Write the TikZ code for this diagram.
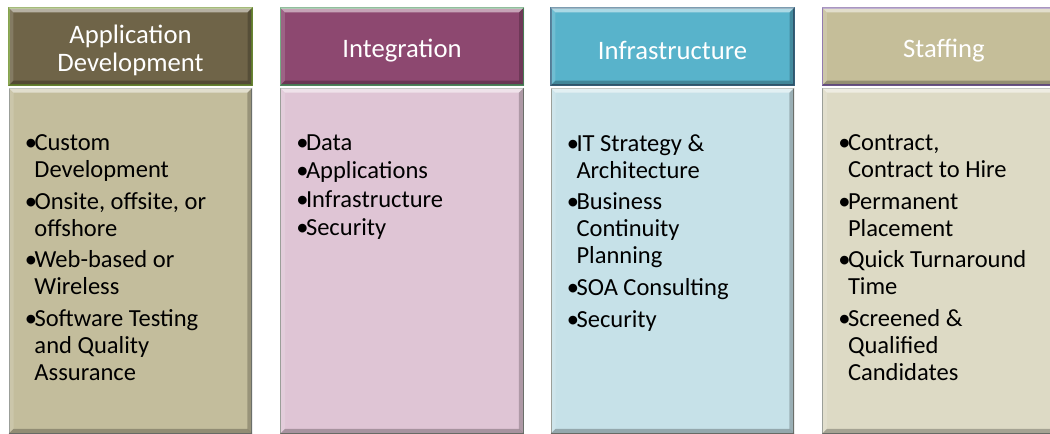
\documentclass[tikz,border=0pt]{standalone}
\usepackage{fontspec}
\setmainfont{Carlito}
\usepackage{tikz}
\usetikzlibrary{positioning}

\definecolor{appHead}{HTML}{6F6448}
\definecolor{appBody}{HTML}{C3BD9C}
\definecolor{appLine}{HTML}{7A9A3C}
\definecolor{intHead}{HTML}{8D4870}
\definecolor{intBody}{HTML}{DFC5D5}
\definecolor{intLine}{HTML}{5E9E6E}
\definecolor{infHead}{HTML}{58B3CB}
\definecolor{infBody}{HTML}{C6E1E8}
\definecolor{infLine}{HTML}{3F6F8C}
\definecolor{stfHead}{HTML}{C5BE99}
\definecolor{stfBody}{HTML}{DDDAC5}
\definecolor{stfLine}{HTML}{8064A2}
\definecolor{bodyLine}{HTML}{8A8F88}

\newcommand{\bul}{\makebox[7.2pt][l]{•}}
\newcommand{\ind}{\hspace*{7.2pt}}
% bevel look on a box
\newcommand{\bevel}[1]{%
  \fill[white,opacity=.5] (#1.north west) -- (#1.north east) -- ([shift={(-5,5)}]#1.north east) -- ([shift={(5,5)}]#1.north west) -- cycle;
  \fill[white,opacity=.15] (#1.north west) -- (#1.south west) -- ([shift={(5,-5)}]#1.south west) -- ([shift={(5,5)}]#1.north west) -- cycle;
  \fill[black,opacity=.22] (#1.north east) -- (#1.south east) -- ([shift={(-5,-5)}]#1.south east) -- ([shift={(-5,5)}]#1.north east) -- cycle;
  \fill[black,opacity=.25] (#1.south west) -- (#1.south east) -- ([shift={(-5,-5)}]#1.south east) -- ([shift={(5,-5)}]#1.south west) -- cycle;
}

\begin{document}
\begin{tikzpicture}[x=0.75pt,y=-0.75pt,
  head/.style={rectangle,minimum width=182pt,minimum height=57.75pt,inner sep=0pt,line width=1.1pt},
  title/.style={text=white,align=center,inner sep=0pt,font=\fontsize{20}{21}\selectfont},
  body/.style={rectangle,minimum width=182pt,minimum height=258.75pt,inner sep=0pt,draw=bodyLine,line width=0.8pt},
  items/.style={anchor=north west,inner sep=0pt,align=left,font=\fontsize{18.4}{20.25}\selectfont},
  node distance=1.5pt]
\path[use as bounding box,clip] (0,0) rectangle (1050,434);

% headers
\node (h1)[head, fill=appHead, draw=appLine] at (130.5,46.5) {};
\node (h2)[head, fill=intHead, draw=intLine] at (402,46.5) {};
\node (h3)[head, fill=infHead, draw=infLine] at (672.5,46.5) {};
\node (h4)[head, fill=stfHead, draw=stfLine] at (944,46.5) {};
\bevel{h1} \bevel{h2} \bevel{h3} \bevel{h4}
\node (l1)[title] at ([yshift=-3pt]h1.center) {Application\\Development};
\node (l2)[title] at ([yshift=-3pt]h2.center) {Integration};
\node (l3)[title] at ([yshift=-3pt]h3.center) {Infrastructure};
\node (l4)[title] at ([yshift=-3pt]h4.center) {Staffing};

% bodies
\node (b1)[body, fill=appBody, below=of h1] {};
\node (b2)[body, fill=intBody, below=of h2] {};
\node (b3)[body, fill=infBody, below=of h3] {};
\node (b4)[body, fill=stfBody, below=of h4] {};
\bevel{b1} \bevel{b2} \bevel{b3} \bevel{b4}

% bullet lists
\node (t1)[items, below right=35pt and 12pt of b1.north west] {\bul Custom\\\ind Development\\[3.4pt]
  \bul Onsite, offsite, or\\\ind offshore\\[3.4pt]
  \bul Web-based or\\\ind Wireless\\[3.4pt]
  \bul Software Testing\\\ind and Quality\\\ind Assurance};
\node (t2)[items, below right=35pt and 12pt of b2.north west] {\bul Data\\[1pt]
  \bul Applications\\[1pt]
  \bul Infrastructure\\[1pt]
  \bul Security};
\node (t3)[items, below right=35pt and 12pt of b3.north west] {\bul IT Strategy \&\\\ind Architecture\\[3.4pt]
  \bul Business\\\ind Continuity\\\ind Planning\\[3.4pt]
  \bul SOA Consulting\\[3.4pt]
  \bul Security};
\node (t4)[items, below right=35pt and 12pt of b4.north west] {\bul Contract,\\\ind Contract to Hire\\[3.4pt]
  \bul Permanent\\\ind Placement\\[3.4pt]
  \bul Quick Turnaround\\\ind Time\\[3.4pt]
  \bul Screened \&\\\ind Qualified\\\ind Candidates};
\end{tikzpicture}
\end{document}
